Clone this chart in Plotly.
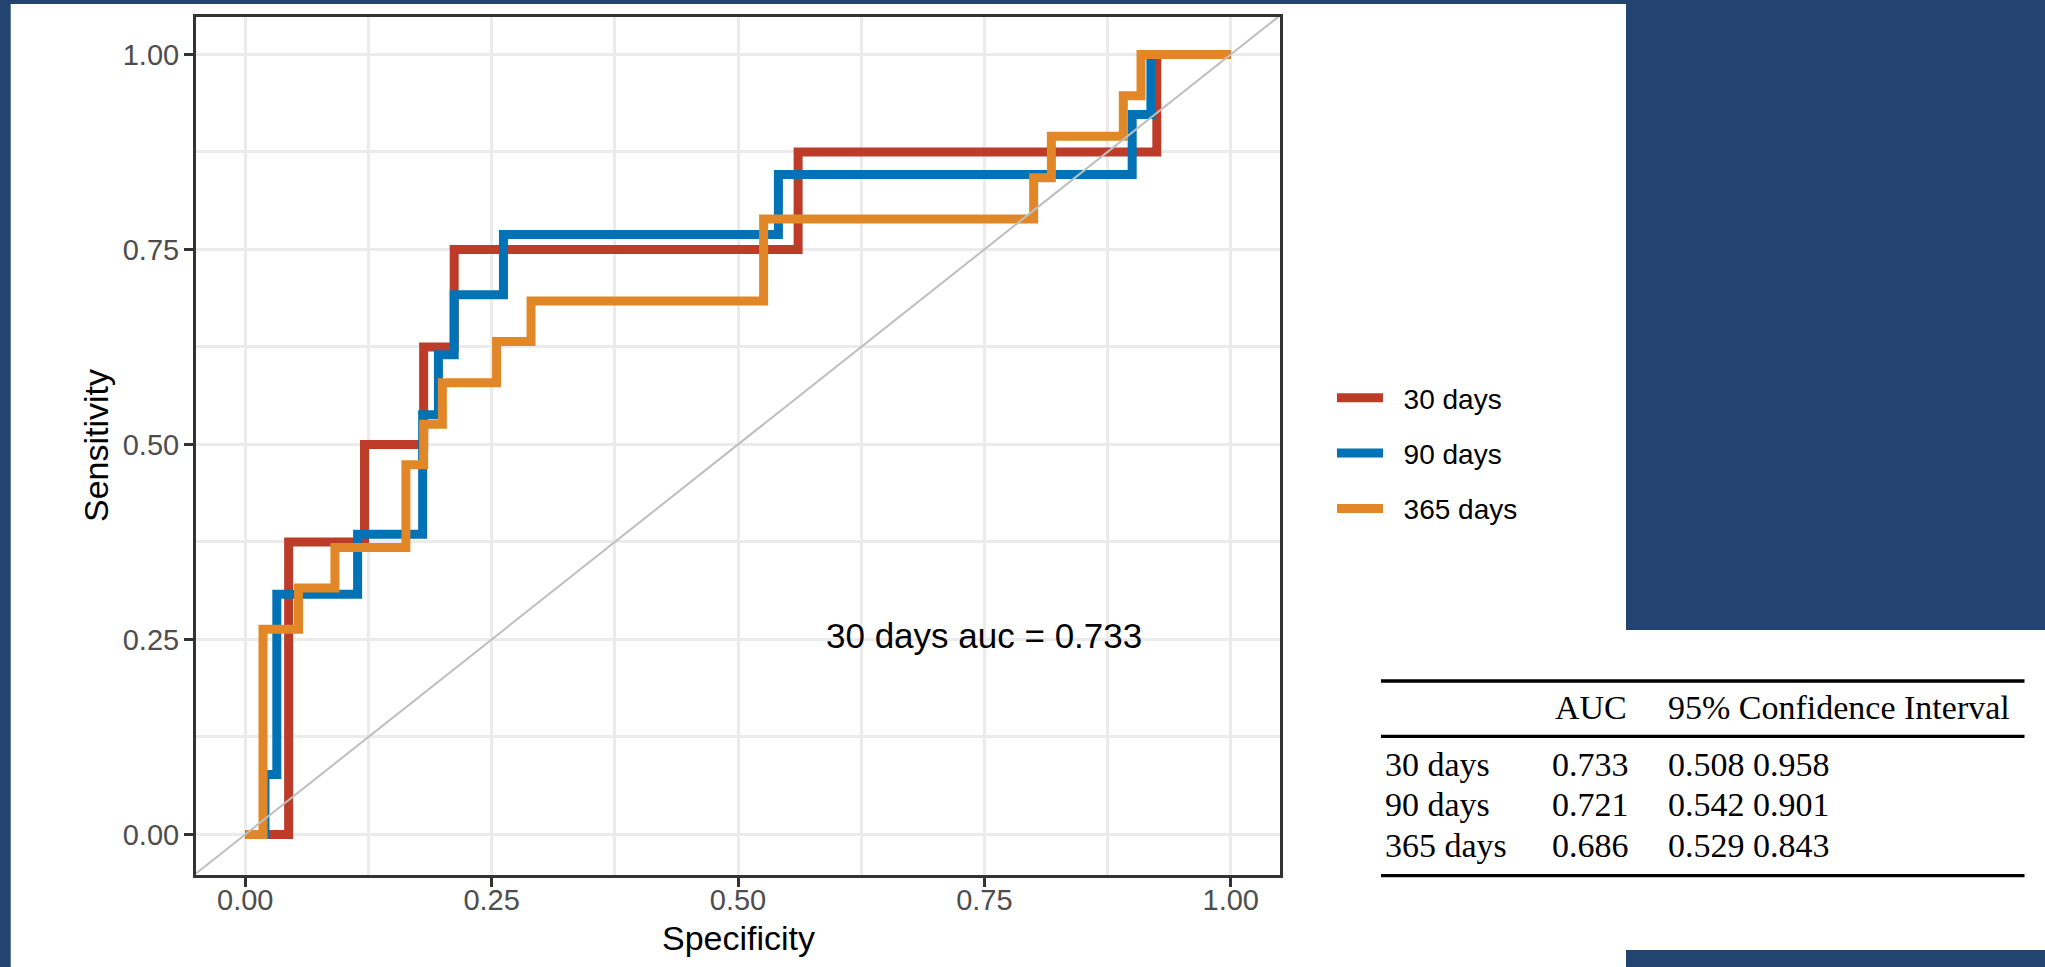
import plotly.graph_objects as go

# ---------------- data ----------------
series_names = ["30 days", "90 days", "365 days"]
series_colors = ["#BC3C29", "#0072B5", "#E18727"]

spec_30 = [0.0, 0.044, 0.121, 0.181, 0.212, 0.561, 0.925, 1.0]
sens_30 = [0.0, 0.375, 0.500, 0.625, 0.750, 0.875, 1.000, 1.0]

spec_90 = [0.0, 0.020, 0.032, 0.114, 0.180, 0.196, 0.212, 0.262, 0.541, 0.900, 0.919, 1.0]
sens_90 = [0.0, 0.077, 0.308, 0.385, 0.538, 0.615, 0.692, 0.769, 0.846, 0.923, 1.000, 1.0]

spec_365 = [0.0, 0.018, 0.054, 0.091, 0.163, 0.181, 0.200, 0.255, 0.290, 0.526, 0.800, 0.818, 0.891, 0.909, 1.0]
sens_365 = [0.0, 0.263, 0.316, 0.368, 0.474, 0.526, 0.579, 0.632, 0.684, 0.789, 0.842, 0.895, 0.947, 1.000, 1.0]

ref_intercept = 0.0
ref_slope = 1.0

tick_vals = [0.0, 0.25, 0.5, 0.75, 1.0]
tick_text = ["0.00", "0.25", "0.50", "0.75", "1.00"]
minor_vals = [0.125, 0.375, 0.625, 0.875]

auc_label = "30 days auc = 0.733"
auc_label_pos = (0.75, 0.25)

table_header = ["AUC", "95% Confidence Interval"]
table_labels = ["30 days", "90 days", "365 days"]
table_auc = ["0.733", "0.721", "0.686"]
table_ci_low = ["0.508", "0.542", "0.529"]
table_ci_high = ["0.958", "0.901", "0.843"]

# ---------------- layout helpers ----------------
FIG_W, FIG_H = 2045, 967
ML, MR, MT, MB = 196, 765, 17, 92
PW = FIG_W - ML - MR
PH = FIG_H - MT - MB
X_RANGE = [-0.05, 1.05]
Y_RANGE = [-0.052, 1.048]


def pxx(X):
    return (X - ML) / PW


def pxy(Y):
    return (FIG_H - MB - Y) / PH


SANS = "Liberation Sans, Arial, sans-serif"
SERIF = "Liberation Serif, Times New Roman, serif"
NAVY = "#23446f"
GRID = "#EBEBEB"
NBSP = "\u00a0"

fig = go.Figure()

curves = [(spec_30, sens_30), (spec_90, sens_90), (spec_365, sens_365)]
for name, color, (xs, ys) in zip(series_names, series_colors, curves):
    fig.add_trace(go.Scatter(
        x=xs, y=ys, mode="lines", name=NBSP * 2 + name, legendgroup=name,
        line=dict(color=color, width=9, shape="hv"),
        hoverinfo="skip",
    ))

# reference diagonal (abline) across the whole panel
ref_x = X_RANGE
ref_y = [ref_intercept + ref_slope * v for v in ref_x]
fig.add_trace(go.Scatter(
    x=ref_x, y=ref_y, mode="lines", showlegend=False,
    line=dict(color="#BEBEBE", width=2), hoverinfo="skip",
))

fig.add_annotation(
    x=auc_label_pos[0], y=auc_label_pos[1], xref="x", yref="y",
    text=auc_label, showarrow=False, xanchor="center", yanchor="middle",
    yshift=4, font=dict(family=SANS, size=35, color="black"),
)

axis_common = dict(
    tickvals=tick_vals, ticktext=tick_text,
    showgrid=True, gridcolor=GRID, gridwidth=3,
    minor=dict(tickvals=minor_vals, showgrid=True, gridcolor=GRID,
               gridwidth=2.5, ticks=""),
    zeroline=False, showline=True, linecolor="#333333", linewidth=3,
    mirror=True, ticks="outside", ticklen=9, tickwidth=3,
    tickcolor="#333333",
    tickfont=dict(family=SANS, size=29, color="#4D4D4D"),
)
fig.update_xaxes(range=X_RANGE, ticklabelstandoff=-12, **axis_common)
fig.update_yaxes(range=Y_RANGE, ticklabelstandoff=-1, **axis_common)

# axis titles
fig.add_annotation(
    x=0.5, y=pxy(938), xref="paper", yref="paper", text="Specificity",
    showarrow=False, xanchor="center", yanchor="middle",
    font=dict(family=SANS, size=34, color="black"),
)
fig.add_annotation(
    x=pxx(96), y=pxy(446), xref="paper", yref="paper", text="Sensitivity",
    showarrow=False, xanchor="center", yanchor="middle", textangle=-90,
    font=dict(family=SANS, size=34, color="black"),
)

shapes = []
# slide background pieces
for (x0, y0, x1, y1) in [(0, 0, 10.7, FIG_H), (0, 0, FIG_W, 4),
                         (1626, 0, FIG_W, 630), (1626, 950, FIG_W, FIG_H)]:
    shapes.append(dict(type="rect", xref="paper", yref="paper",
                       x0=pxx(x0), x1=pxx(x1), y0=pxy(y0), y1=pxy(y1),
                       fillcolor=NAVY, line=dict(width=0), layer="above"))

# table rules
for Yr in [681, 736.3, 875.7]:
    shapes.append(dict(type="line", xref="paper", yref="paper",
                       x0=pxx(1381), x1=pxx(2024.5), y0=pxy(Yr), y1=pxy(Yr),
                       line=dict(color="black", width=3.3)))
fig.update_layout(shapes=shapes)

# table text
tfont = dict(family=SERIF, size=34, color="black")
header_x = [1552.7, 1666]
for txt, X in zip(table_header, header_x):
    fig.add_annotation(x=pxx(X), y=pxy(707.3), xref="paper", yref="paper",
                       text=txt, showarrow=False, xanchor="left",
                       yanchor="middle", font=tfont)
row_y = [764, 804, 845.7]
for lab, auc, lo, hi, Y in zip(table_labels, table_auc, table_ci_low,
                               table_ci_high, row_y):
    for txt, X in [(lab, 1383.3), (auc, 1550), (lo + " " + hi, 1666)]:
        fig.add_annotation(x=pxx(X), y=pxy(Y), xref="paper", yref="paper",
                           text=txt, showarrow=False, xanchor="left",
                           yanchor="middle", font=tfont)

fig.update_layout(
    width=FIG_W, height=FIG_H,
    margin=dict(l=ML, r=MR, t=MT, b=MB, pad=0),
    paper_bgcolor="white", plot_bgcolor="white",
    showlegend=True,
    legend=dict(
        x=pxx(1332), y=pxy(453.5), xanchor="left", yanchor="middle",
        font=dict(family=SANS, size=28, color="black"),
        itemwidth=46, tracegroupgap=16, bgcolor="rgba(0,0,0,0)",
        traceorder="grouped",
    ),
)

fig.write_html(
    "out.html",
    config={"displayModeBar": False},
    post_script="document.body.style.margin='0';"
                "document.body.style.padding='0';"
                "document.body.style.overflow='hidden';",
)
